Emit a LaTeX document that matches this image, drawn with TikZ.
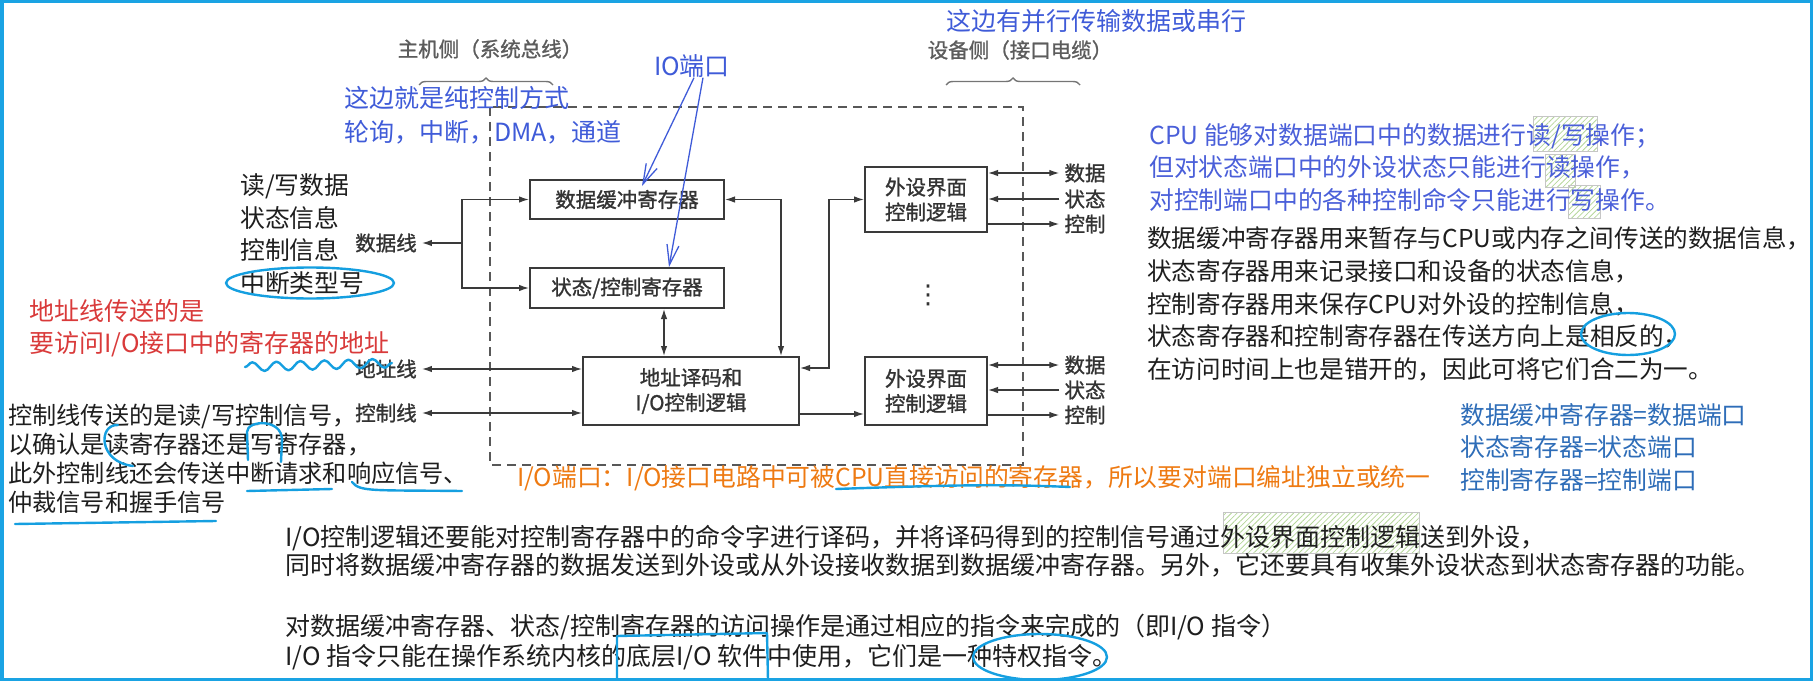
\documentclass[tikz,border=0pt]{standalone}
\usepackage{fontspec}
\setmainfont{Noto Sans CJK SC}
\newfontfamily\diagfamily[FakeBold=1.2]{Noto Sans CJK SC}
\newfontfamily\symfamily{DejaVu Sans}
\usepackage{tikz}
\usetikzlibrary{arrows.meta,calc,decorations.pathreplacing,decorations.pathmorphing,patterns.meta}
\usepackage{xcolor}
\definecolor{ink}{HTML}{1E1E1E}
\definecolor{boxtext}{HTML}{333333}
\definecolor{wire}{HTML}{3A3A3A}
\definecolor{pen}{HTML}{3F5BD8}
\definecolor{penright}{HTML}{4A5FD9}
\definecolor{steel}{HTML}{2E6DB8}
\definecolor{redink}{HTML}{D93A3A}
\definecolor{orangeink}{HTML}{EE7A12}
\definecolor{marker}{HTML}{159FE0}
\definecolor{framecol}{HTML}{1AA3E3}
\definecolor{hatch}{HTML}{B5D69A}
\newcommand{\notefont}{\fontsize{24.8bp}{32.5bp}\selectfont}
\newcommand{\diagfont}{\diagfamily\fontsize{20.5bp}{25bp}\selectfont}
\tikzset{
  note/.style={anchor=west,inner sep=0pt,align=left,font=\notefont,text=ink},
  hand/.style={note,text=pen},
  box/.style={draw=wire,line width=2bp,fill=white,align=center,font=\diagfont,text=boxtext,inner sep=0pt},
  sidelabel/.style={font=\diagfont,text=boxtext,inner sep=5bp},
  title/.style={font=\diagfont,text=boxtext!80,inner sep=0pt},
  hostbrace/.style={decorate,decoration={brace,amplitude=7bp},draw=wire!70,line width=1.4bp},
  dashbox/.style={draw=wire!85,line width=1.5bp,dash pattern=on 9bp off 6bp},
  arrow/.style={-{Latex[length=10bp,width=6.5bp]},line width=1.3bp,draw=wire},
  biarrow/.style={{Latex[length=10bp,width=6.5bp]}-{Latex[length=10bp,width=6.5bp]},line width=1.3bp,draw=wire},
  penarrow/.style={-{Straight Barb[length=20bp,width=12bp]},line width=1.3bp,draw=pen},
  pencil/.style={draw=marker,line width=2.4bp,line cap=round,line join=round},
  hilite/.style={draw=gray!45,line width=1bp,pattern={Lines[angle=45,distance=4bp,line width=0.8bp]},pattern color=hatch},
  pageframe/.style={draw=framecol,line width=3.5bp},
}

\begin{document}
\begin{tikzpicture}[x=1bp,y=-1bp]
  \useasboundingbox (0,0) rectangle (1813,681);

  % hatched marks behind the notes
  \draw[hilite] (1533,117) rectangle (1597,152);
  \draw[hilite] (1545,155) rectangle (1575,187);
  \draw[hilite] (1568,185) rectangle (1600,218);
  \draw[hilite] (1223,512) rectangle (1419,553);

  % interface diagram
  \node[title] (hostside) at (490,49) {主机侧（系统总线）};
  \node[title] (devside) at (1020,50) {设备侧（接口电缆）};
  \draw[hostbrace] (419,85) -- (553,85);
  \draw[hostbrace] (946,85) -- (1080,85);
  \draw[dashbox] (490,107) rectangle (1023,465);

  \node[box,minimum width=194bp,minimum height=39bp] (dbuf) at (627,199.5) {数据缓冲寄存器};
  \node[box,minimum width=194bp,minimum height=40bp] (sreg) at (627,288) {状态/控制寄存器};
  \node[box,minimum width=216bp,minimum height=68bp] (addr) at (691,391) {地址译码和\\I/O控制逻辑};
  \node[box,minimum width=122bp,minimum height=65bp] (per1) at (926,199.5) {外设界面\\控制逻辑};
  \node[box,minimum width=122bp,minimum height=68bp] (per2) at (926,391) {外设界面\\控制逻辑};
  \node[text=boxtext,inner sep=0pt,font={\symfamily\fontsize{26bp}{28bp}\selectfont}] (more) at (928,295) {⋮};

  \node[sidelabel] (dline) at (386,243) {数据线};
  \node[sidelabel] (aline) at (386,369) {地址线};
  \node[sidelabel] (cline) at (386,413) {控制线};
  \coordinate (dj) at (462,243);
  \draw[arrow] (dj) -- (dline);
  \draw[arrow] (dj) |- (dbuf.west);
  \draw[arrow] (dj) |- (sreg.west);
  \draw[biarrow] (aline) -- (aline -| addr.west);
  \draw[biarrow] (cline) -- (cline -| addr.west);
  \draw[biarrow] ([xshift=37bp]sreg.south) -- ([xshift=37bp]sreg.south |- addr.north);
  \draw[biarrow] (dbuf.east) -| ($(addr.north east)+(-19,0)$);
  \draw[biarrow] ($(addr.north east)+(0,12)$) -- ++(29,0) |- (per1.west);
  \draw[arrow] ($(addr.south east)+(0,-12)$) -- ($(per2.south west)+(0,-12)$);

  \node[sidelabel] (p1d) at (1085,173) {数据};
  \node[sidelabel] (p1s) at (1085,199) {状态};
  \node[sidelabel] (p1c) at (1085,224) {控制};
  \node[sidelabel] (p2d) at (1085,365) {数据};
  \node[sidelabel] (p2s) at (1085,390) {状态};
  \node[sidelabel] (p2c) at (1085,415) {控制};
  \draw[biarrow] (per1.east |- p1d) -- (p1d);
  \draw[arrow] (p1s) -- (per1.east |- p1s);
  \draw[arrow] (per1.east |- p1c) -- (p1c);
  \draw[biarrow] (per2.east |- p2d) -- (p2d);
  \draw[arrow] (p2s) -- (per2.east |- p2s);
  \draw[arrow] (per2.east |- p2c) -- (p2c);

  % notes
  \node[hand,font={\fontsize{25bp}{30bp}\selectfont}] (serialnote) at (946,21) {这边有并行传输数据或串行};
  \node[hand,font={\fontsize{25bp}{34bp}\selectfont}] (ctrlmodes) at (344,115) {这边就是纯控制方式\\轮询，中断，DMA，通道};
  \node[hand,anchor=center,font={\fontsize{25bp}{30bp}\selectfont}] (ioport) at (692,66) {IO端口};
  \draw[penarrow] ([xshift=2bp]ioport.south) -- ([xshift=15bp,yshift=-7bp]dbuf.north);
  \draw[penarrow] ([xshift=11bp]ioport.south) -- ([xshift=42bp]sreg.north);

  \node[note,font={\fontsize{24.8bp}{32.7bp}\selectfont}] (datakinds) at (240,234) {读/写数据\\状态信息\\控制信息\\中断类型号};
  \node[note,text=redink,font={\fontsize{25bp}{32bp}\selectfont}] (addrnote) at (29,328) {地址线传送的是\\要访问I/O接口中的寄存器的地址};
  \node[note,font={\fontsize{24.2bp}{29bp}\selectfont}] (ctrlnote) at (8,458.5) {控制线传送的是读/写控制信号，\\以确认是读寄存器还是写寄存器，\\此外控制线还会传送中断请求和响应信号、\\仲裁信号和握手信号};
  \node[note,text=orangeink] (portdef) at (517,478) {I/O端口：I/O接口电路中可被CPU直接访问的寄存器，所以要对端口编址独立或统一};

  \node[note,text=penright] (portrw) at (1149,167.5) {CPU 能够对数据端口中的数据进行读/写操作；\\但对状态端口中的外设状态只能进行读操作，\\对控制端口中的各种控制命令只能进行写操作。};
  \node[note,font={\fontsize{24.6bp}{32.75bp}\selectfont}] (regnote) at (1147,304) {数据缓冲寄存器用来暂存与CPU或内存之间传送的数据信息，\\状态寄存器用来记录接口和设备的状态信息，\\控制寄存器用来保存CPU对外设的控制信息，\\状态寄存器和控制寄存器在传送方向上是相反的，\\在访问时间上也是错开的，因此可将它们合二为一。};
  \node[note,text=steel] (porteq) at (1460,447.5) {数据缓冲寄存器=数据端口\\状态寄存器=状态端口\\控制寄存器=控制端口};

  \node[note,font={\fontsize{25bp}{28bp}\selectfont}] (logicnote) at (285,551) {I/O控制逻辑还要能对控制寄存器中的命令字进行译码，并将译码得到的控制信号通过外设界面控制逻辑送到外设，\\同时将数据缓冲寄存器的数据发送到外设或从外设接收数据到数据缓冲寄存器。另外，它还要具有收集外设状态到状态寄存器的功能。};
  \node[note,font={\fontsize{25bp}{30bp}\selectfont}] (instrnote) at (285,642) {对数据缓冲寄存器、状态/控制寄存器的访问操作是通过相应的指令来完成的（即I/O 指令）\\I/O 指令只能在操作系统内核的底层I/O 软件中使用，它们是一种特权指令。};

  % pen marks
  \draw[pencil] (310,283) ellipse [x radius=84bp,y radius=15.5bp];
  \draw[pencil,decorate,decoration={snake,segment length=24bp,amplitude=4.5bp}] (245,367) -- (392,363);
  \draw[pencil] (118,425) .. controls (98,424) and (98,462) .. (133,466);
  \draw[pencil] (248,460) -- (247,432) .. controls (247,420) and (282,418) .. (282,440) -- (281,462);
  \draw[pencil] (247,491) -- (332,489);
  \draw[pencil] (352,482) .. controls (360,492) and (372,490) .. (462,491);
  \draw[pencil] (15,524) -- (216,521);
  \draw[pencil] (836,489) .. controls (950,485) and (1000,484) .. (1070,487);
  \draw[pencil] (1628,334) ellipse [x radius=47bp,y radius=21bp];
  \draw[pencil] (617,680) -- (617,636) -- (767,633) -- (768,680);
  \draw[pencil] (1040,657) ellipse [x radius=67bp,y radius=23bp];

  \draw[pageframe] (1.75,1.75) rectangle (1811.25,679.25);
\end{tikzpicture}
\end{document}
